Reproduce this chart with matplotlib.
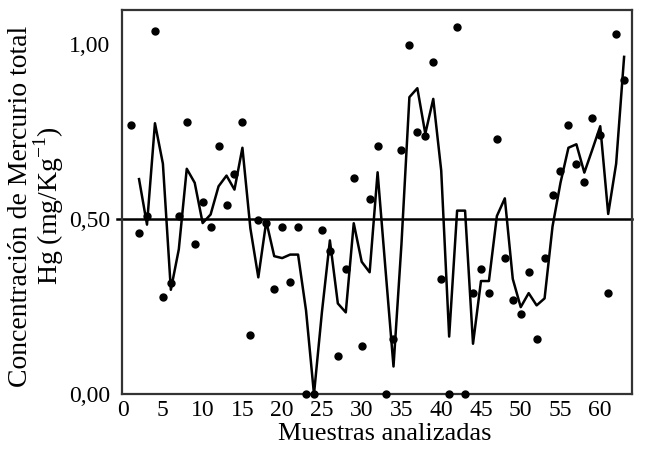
import matplotlib
matplotlib.use('Agg')
import matplotlib.pyplot as plt
import numpy as np
import pandas as pd

plt.rcParams['font.family'] = ['Liberation Serif', 'DejaVu Serif']
plt.rcParams['mathtext.fontset'] = 'custom'
plt.rcParams['mathtext.rm'] = 'Liberation Serif'

## Hg concentration (mg/Kg) per analysed sample
muestras = np.arange(1, 64)
hg = [0.769, 0.459, 0.509, 1.038, 0.278, 0.318, 0.509, 0.778, 0.429, 0.548,
      0.478, 0.709, 0.539, 0.629, 0.778, 0.169, 0.498, 0.489, 0.299, 0.478,
      0.319, 0.478, 0.000, 0.000, 0.469, 0.409, 0.109, 0.358, 0.618, 0.138,
      0.558, 0.709, 0.000, 0.158, 0.698, 0.998, 0.749, 0.738, 0.948, 0.329,
      0.000, 1.048, 0.000, 0.288, 0.358, 0.288, 0.729, 0.389, 0.269, 0.228,
      0.349, 0.158, 0.389, 0.569, 0.638, 0.769, 0.658, 0.607, 0.789, 0.741,
      0.288, 1.028, 0.898]
limite = 0.50

xticks = np.arange(0, 61, 5)
yticks = [0.0, 0.5, 1.0]
ylabels = ['0,00', '0,50', '1,00']

## moving average over 2 samples
media = pd.Series(hg, index=muestras).rolling(2).mean()

fig = plt.figure(figsize=(6.5, 4.51), dpi=100)
ax = fig.add_axes([0.187, 0.126, 0.786, 0.852])

ax.plot([-0.8, 64], [limite, limite], color='black', lw=1.8, clip_on=False, zorder=2)
ax.plot(media.index, media.values, color='black', lw=1.8, zorder=3)
ax.plot(muestras, hg, 'o', color='black', ms=5, clip_on=False, zorder=4)

ax.set_xlim(-0.2, 64.05)
ax.set_ylim(0, 1.097)
ax.set_xticks(xticks)
ax.set_yticks(yticks)
ax.set_yticklabels(ylabels)
ax.tick_params(axis='both', length=0, labelsize=17)
ax.tick_params(axis='y', pad=8)
ax.tick_params(axis='x', pad=4)

for s in ax.spines.values():
    s.set_color('#333333')
    s.set_linewidth(1.6)

ax.set_xlabel('Muestras analizadas', fontsize=19)
ax.xaxis.set_label_coords(0.515, -0.075, transform=ax.transAxes)
ax.xaxis.label.set_va('top')
ax.set_ylabel('Concentración de Mercurio total\nHg (mg/Kg$^{-1}$)', fontsize=20,
              linespacing=0.95)
ax.yaxis.set_label_coords(-0.166, 0.49, transform=ax.transAxes)
ax.yaxis.label.set_va('center')

fig.savefig('out.png', dpi=100)
